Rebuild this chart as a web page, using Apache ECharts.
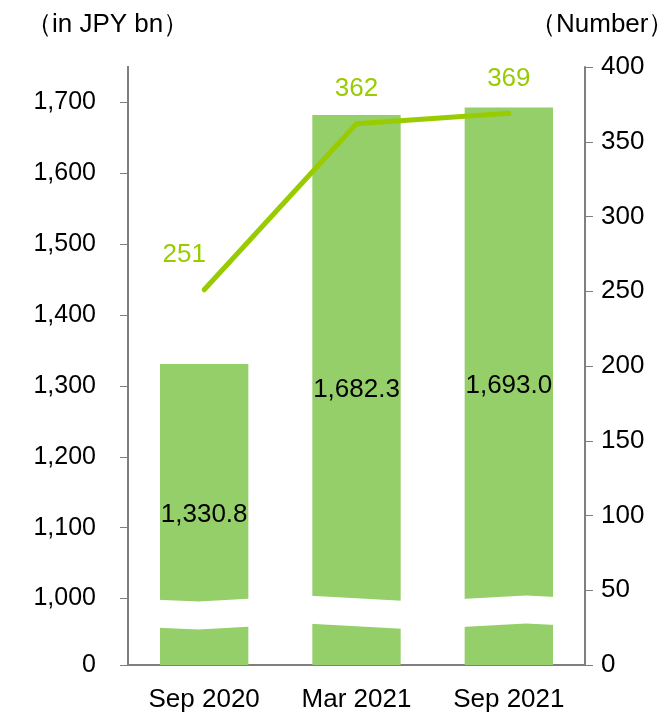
<!DOCTYPE html>
<html>
<head>
<meta charset="utf-8">
<script src="https://cdn.jsdelivr.net/npm/echarts@6/dist/echarts.min.js"></script>
<style>
  html, body { margin: 0; padding: 0; background: #fff; }
  #chart { width: 669px; height: 713px; }
</style>
</head>
<body>
<div id="chart"></div>
<script>
// data
const categories = ['Sep 2020', 'Mar 2021', 'Sep 2021'];
const balances = [1330.8, 1682.3, 1693.0];   // in JPY bn, left axis
const counts = [251, 362, 369];              // number, right axis
const leftTicks = [0, 1000, 1100, 1200, 1300, 1400, 1500, 1600, 1700];

const FONT = '"Liberation Sans", Arial, sans-serif';
const BAR_GREEN = '#95cf69';
const LINE_GREEN = '#99cc00';
const AXIS_GREY = '#7f7f7f';

const fmtInt = v => Number(v).toLocaleString('en-US');
const fmtOne = v => Number(v).toLocaleString('en-US', { minimumFractionDigits: 1, maximumFractionDigits: 1 });

let myChart = echarts.init(document.getElementById('chart'));
myChart.setOption({
  animation: false,
  textStyle: { fontFamily: FONT },
  grid: { left: 128, right: 84, top: 67, bottom: 47 },
  graphic: [
    { type: 'text', left: 26, top: 12, style: { text: '（in JPY bn）', font: '26px ' + FONT, fill: '#000' } },
    { type: 'text', left: 530, top: 12, style: { text: '（Number）', font: '26px ' + FONT, fill: '#000' } }
  ],
  xAxis: {
    type: 'category',
    data: categories,
    axisLine: { lineStyle: { color: AXIS_GREY, width: 2 } },
    axisTick: { show: false },
    axisLabel: { color: '#000', fontSize: 26, margin: 22 }
  },
  yAxis: [
    {
      type: 'value',
      min: 0,
      max: 1750,
      interval: 100,
      // the 0-1000 stretch is cut out, as in the original
      breaks: [{ start: 55, end: 1000, gap: '4.6%' }],
      breakArea: {
        show: true,
        expandOnClick: false,
        zigzagAmplitude: 3,
        zigzagMinSpan: 60,
        zigzagMaxSpan: 120,
        itemStyle: { color: '#fff', borderColor: '#fff', borderWidth: 0, opacity: 1 }
      },
      splitLine: { show: false },
      axisLine: { show: true, breakLine: false, lineStyle: { color: AXIS_GREY, width: 2 } },
      axisTick: { show: true, length: 8, customValues: leftTicks, lineStyle: { color: AXIS_GREY } },
      axisLabel: {
        color: '#000', fontSize: 25, margin: 32,
        customValues: leftTicks,
        formatter: v => fmtInt(v)
      }
    },
    {
      type: 'value',
      min: 0,
      max: 400,
      interval: 50,
      z: 150,
      splitLine: { show: false },
      axisLine: { show: true, lineStyle: { color: AXIS_GREY, width: 2 } },
      axisTick: { show: true, length: 8, lineStyle: { color: AXIS_GREY } },
      axisLabel: { color: '#000', fontSize: 26, margin: 16 }
    },
    {
      // plain copy of the left axis line, drawn above the break band
      type: 'value',
      position: 'left',
      min: 0,
      max: 1750,
      z: 150,
      splitLine: { show: false },
      axisLine: { show: true, lineStyle: { color: AXIS_GREY, width: 2 } },
      axisTick: { show: false },
      axisLabel: { show: false }
    }
  ],
  series: [
    {
      name: 'Balance',
      type: 'bar',
      yAxisIndex: 0,
      data: balances,
      barWidth: '58%',
      itemStyle: { color: BAR_GREEN },
      label: {
        show: true,
        position: 'inside',
        color: '#000',
        fontSize: 26,
        formatter: p => fmtOne(p.value)
      }
    },
    {
      name: 'Number',
      type: 'line',
      yAxisIndex: 1,
      data: counts.map((v, i) => (i === 0 ? { value: v, label: { offset: [-20, 0] } } : v)),
      symbol: 'circle',
      symbolSize: 1,
      showSymbol: true,
      lineStyle: { color: LINE_GREEN, width: 5, cap: 'round', join: 'round' },
      itemStyle: { color: LINE_GREEN },
      label: {
        show: true,
        position: 'top',
        distance: 21,
        color: LINE_GREEN,
        fontSize: 26
      },
      z: 5
    }
  ]
});
</script>
</body>
</html>
